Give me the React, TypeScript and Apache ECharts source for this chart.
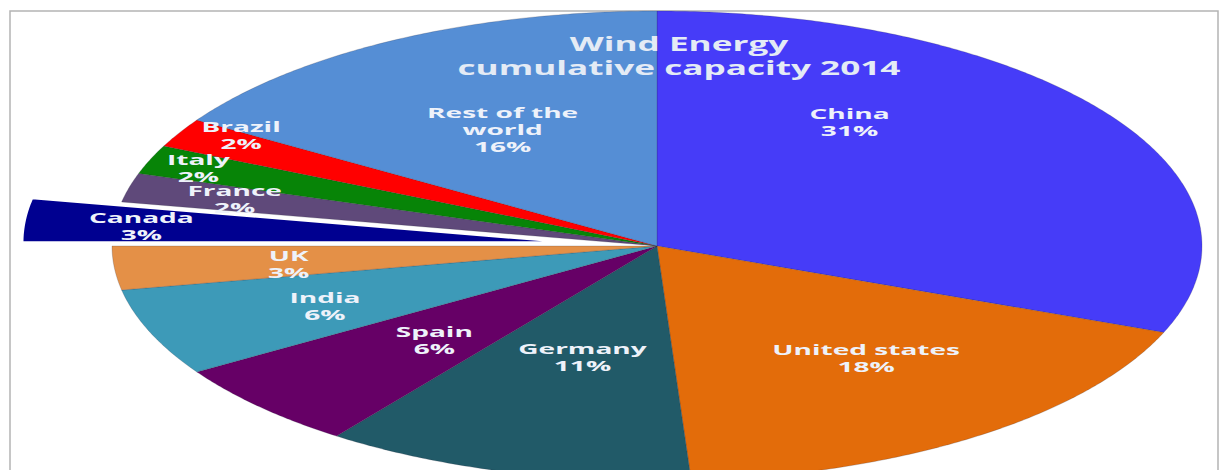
import React, { useEffect, useRef } from "react";
import * as echarts from "echarts";

// ---- data ----
const categories = ["China", "United states", "Germany", "Spain", "India", "UK", "Canada", "France", "Italy", "Brazil", "Rest of the world"];
const labelNames = ["China", "United states", "Germany", "Spain", "India", "UK", "Canada", "France", "Italy", "Brazil", "Rest of the\nworld"];
const shares = [31, 18, 11, 6, 6, 3, 3, 2, 2, 2, 16];
const titleLines = ["Wind Energy", "cumulative capacity 2014"];

// ---- style / layout ----
const colors = ["#463cf8", "#e36c0a", "#215a68", "#660066", "#3d9ab8", "#e49047", "#000090", "#5f497a", "#078407", "#ff0000", "#558ed5"];
const explodedName = "Canada";
const explodeDist = 0.165;
const labelRadius = [0.635, 0.61, 0.49, 0.57, 0.66, 0.68, 0.785, 0.8, 0.905, 0.898, 0.57];
const labelAngleShift = [22, 3, 0, 1, 1, 1, 0.3, 0, 0, -3, 1];

const TEXT_SCALE = 1.87;
const TITLE_SCALE = 1.85;
const FONT = "'Open Sans', 'DejaVu Sans', sans-serif";

// ellipse: radius 545 x 235 px, centre (657, 246); visible part ends at the page bottom
const GRID_TOP = 11;
const GRID_HEIGHT = 459;
const RY = 235;

export default function App() {
  const ref = useRef<HTMLDivElement>(null);
  useEffect(() => {
    if (!ref.current) return;
    const chart = echarts.init(ref.current, null, { renderer: "svg" });
    const total = shares.reduce((a, b) => a + b, 0);
    const deg = Math.PI / 180;

    chart.setOption({
      animation: false,
      backgroundColor: "#ffffff",
      grid: { left: 112, width: 1090, top: GRID_TOP, height: GRID_HEIGHT, outerBoundsMode: "none" },
      xAxis: { type: "value", min: -1, max: 1, show: false },
      yAxis: { type: "value", min: 1 - GRID_HEIGHT / RY, max: 1, show: false },
      graphic: [
        {
          type: "rect",
          z: -10,
          shape: { x: 10, y: 11, width: 1208, height: 470 },
          style: { fill: "none", stroke: "#b4b4b4", lineWidth: 1.5 },
        },
        {
          type: "text",
          z: 100,
          x: 679,
          y: 56,
          scaleX: TITLE_SCALE,
          style: {
            text: titleLines.join("\n"),
            fill: "#e4ebf5",
            fontFamily: FONT,
            fontWeight: "bold",
            fontSize: 19,
            lineHeight: 24,
            align: "center",
            verticalAlign: "middle",
          },
        },
      ],
      series: [
        {
          type: "custom",
          coordinateSystem: "cartesian2d",
          clip: false,
          data: categories.map((_, i) => [i]),
          renderItem: (params: any, api: any) => {
            const i = api.value(0);
            let start = 0;
            for (let j = 0; j < i; j++) start += shares[j];
            const a0 = 90 - (start / total) * 360;
            const a1 = 90 - ((start + shares[i]) / total) * 360;
            const mid = ((a0 + a1) / 2) * deg;
            const off = categories[i] === explodedName ? explodeDist : 0;
            const ox = off * Math.cos(mid);
            const oy = off * Math.sin(mid);
            const pts: number[][] = [api.coord([ox, oy])];
            const steps = Math.max(4, Math.ceil(Math.abs(a1 - a0) * 2));
            for (let k = 0; k <= steps; k++) {
              const a = (a0 + ((a1 - a0) * k) / steps) * deg;
              pts.push(api.coord([ox + Math.cos(a), oy + Math.sin(a)]));
            }
            const la = mid + labelAngleShift[i] * deg;
            const lr = labelRadius[i];
            const lp = api.coord([ox + lr * Math.cos(la), oy + lr * Math.sin(la)]);
            const isExp = categories[i] === explodedName;
            return {
              type: "group",
              children: [
                {
                  type: "polygon",
                  shape: { points: pts },
                  style: {
                    fill: colors[i],
                    stroke: isExp ? "#ffffff" : "rgba(40,40,60,0.35)",
                    lineWidth: isExp ? 2 : 0.6,
                    lineJoin: "round",
                  },
                },
                {
                  type: "text",
                  z2: 100,
                  x: lp[0],
                  y: lp[1],
                  scaleX: TEXT_SCALE,
                  style: {
                    text: labelNames[i] + "\n" + shares[i] + "%",
                    fill: "#eef2fa",
                    fontFamily: FONT,
                    fontWeight: "bold",
                    fontSize: 15,
                    lineHeight: 17,
                    align: "center",
                    verticalAlign: "middle",
                  },
                },
              ],
            };
          },
        },
      ],
    });
    return () => chart.dispose();
  }, []);
  return (
    <div
      ref={ref}
      style={{ position: "absolute", left: 0, top: 0, width: 1223, height: 470 }}
    />
  );
}
